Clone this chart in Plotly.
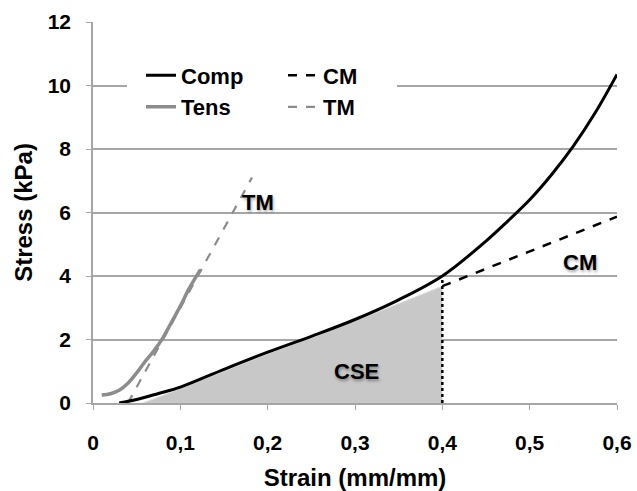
import plotly.graph_objects as go

# ---- data ----
comp_x = [0.03, 0.05, 0.075, 0.1, 0.15, 0.2, 0.25, 0.3, 0.35, 0.4, 0.45, 0.475, 0.5, 0.525, 0.55, 0.575, 0.6]
comp_y = [0.0, 0.11, 0.3, 0.5, 1.06, 1.6, 2.1, 2.63, 3.25, 4.0, 5.1, 5.73, 6.4, 7.19, 8.09, 9.14, 10.35]

cm_x = [0.4, 0.6]
cm_y = [3.68, 5.87]

tens_x = [0.01, 0.02, 0.03, 0.04, 0.05, 0.06, 0.07, 0.08, 0.09, 0.1, 0.11, 0.123]
tens_y = [0.25, 0.29, 0.4, 0.62, 0.95, 1.32, 1.65, 2.05, 2.55, 3.05, 3.6, 4.2]

tm_x = [0.04, 0.182]
tm_y = [0.0, 7.1]

cse_x = [0.057, 0.1, 0.15, 0.2, 0.25, 0.3, 0.32, 0.4]
cse_y = [0.0, 0.45, 1.0, 1.55, 2.05, 2.58, 2.8, 3.68]

limit_x = [0.4, 0.4]
limit_y = [0.0, 3.9]

x_tickvals = [0, 0.1, 0.2, 0.3, 0.4, 0.5, 0.6]
x_ticktext = ["0", "0,1", "0,2", "0,3", "0,4", "0,5", "0,6"]
y_tickvals = [0, 2, 4, 6, 8, 10, 12]

labels = [("TM", 0.189, 6.3), ("CM", 0.558, 4.41), ("CSE", 0.302, 1.0)]

FONT = "Liberation Sans, Arial, sans-serif"
GRID = "#a6a6a6"
GREY = "#8c8c8c"

fig = go.Figure()
fig.add_trace(go.Scatter(x=cse_x, y=cse_y, mode="lines", fill="tozeroy",
                         fillcolor="#c8c8c8", line=dict(color="#dedede", width=1),
                         showlegend=False, hoverinfo="skip"))
fig.add_trace(go.Scatter(x=tm_x, y=tm_y, mode="lines", name="TM", legend="legend2",
                         line=dict(color=GREY, width=2.2, dash="dash"), legendrank=2))
fig.add_trace(go.Scatter(x=tens_x, y=tens_y, mode="lines", name="Tens",
                         line=dict(color=GREY, width=3.5, shape="spline"), legendrank=2))
fig.add_trace(go.Scatter(x=comp_x, y=comp_y, mode="lines", name="Comp",
                         line=dict(color="black", width=3, shape="spline"), legendrank=1))
fig.add_trace(go.Scatter(x=cm_x, y=cm_y, mode="lines", name="CM", legend="legend2",
                         line=dict(color="black", width=2.5, dash="dash"), legendrank=1))
fig.add_trace(go.Scatter(x=limit_x, y=limit_y, mode="lines", showlegend=False,
                         line=dict(color="black", width=2.5, dash="dot"), hoverinfo="skip"))

for txt, lx, ly in labels:
    fig.add_annotation(x=lx, y=ly, text=txt, showarrow=False,
                       font=dict(family=FONT, size=22, color="black", weight="bold",
                                 shadow="1px 2px 3px rgba(0,0,0,0.35)"))

# white background behind the legend block (hides the gridline there)
fig.add_shape(type="rect", xref="paper", yref="paper",
              x0=(127 - 93) / 524, x1=(397 - 93) / 524,
              y0=(403 - 125) / 381, y1=(403 - 57) / 381,
              fillcolor="white", line=dict(width=0), layer="above")

legfont = dict(family=FONT, size=22, color="black", weight="bold")
fig.update_layout(
    width=637, height=491,
    margin=dict(l=93, r=20, t=22, b=88),
    paper_bgcolor="white", plot_bgcolor="white",
    showlegend=True,
    legend=dict(x=(141 - 93) / 524, y=0.915, xanchor="left", yanchor="top",
                bgcolor="rgba(0,0,0,0)", font=legfont, tracegroupgap=0),
    legend2=dict(x=(283 - 93) / 524, y=0.915, xanchor="left", yanchor="top",
                 bgcolor="rgba(0,0,0,0)", font=legfont, tracegroupgap=0),
    xaxis=dict(range=[0, 0.6], tickvals=x_tickvals, ticktext=x_ticktext, automargin=False,
               showgrid=False, zeroline=False, showline=True, linecolor=GRID, linewidth=1.5,
               ticks="outside", ticklen=5, tickcolor=GRID, ticklabelstandoff=15,
               tickfont=dict(family=FONT, size=21, color="black", weight="bold"),
               title=dict(text="Strain (mm/mm)", standoff=19,
                          font=dict(family=FONT, size=24, color="black", weight="bold"))),
    yaxis=dict(range=[0, 12], tickvals=y_tickvals, automargin=False,
               showgrid=True, gridcolor=GRID, gridwidth=1.5, zeroline=False,
               showline=True, linecolor=GRID, linewidth=1.5,
               ticks="outside", ticklen=5, tickcolor=GRID, ticklabelstandoff=11,
               tickfont=dict(family=FONT, size=21, color="black", weight="bold"),
               title=dict(text="Stress (kPa)", standoff=8,
                          font=dict(family=FONT, size=24, color="black", weight="bold"))),
)
fig.write_html("out.html")
